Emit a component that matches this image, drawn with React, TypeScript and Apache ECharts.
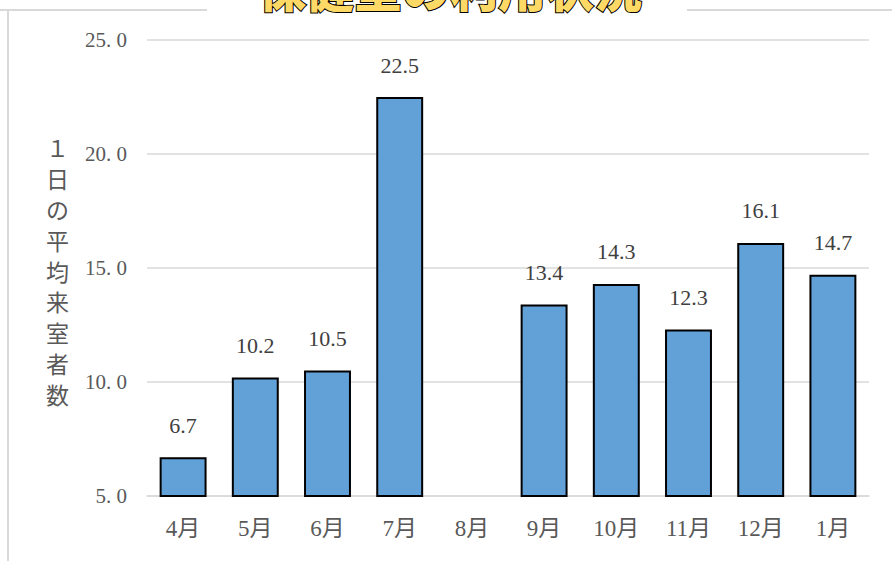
import React, { useEffect, useRef } from "react";
import * as echarts from "echarts";

const months = ["4月", "5月", "6月", "7月", "8月", "9月", "10月", "11月", "12月", "1月"];
const visitors = [6.7, 10.2, 10.5, 22.5, 0, 13.4, 14.3, 12.3, 16.1, 14.7];
const titleText = "保健室の利用状況";
const yAxisTitle = "１日の平均来室者数";
const yMin = 5;
const yMax = 25;
const yInterval = 5;

export default function App() {
  const ref = useRef<HTMLDivElement>(null);
  useEffect(() => {
    if (!ref.current) return;
    const chart = echarts.init(ref.current, null, { renderer: "svg" });
    const serif = "'Liberation Serif', 'Noto Sans CJK JP', serif";
    chart.setOption({
      animation: false,
      backgroundColor: "#ffffff",
      grid: { left: 147, right: 23, top: 40, bottom: 65, containLabel: false },
      xAxis: {
        type: "category",
        data: months,
        axisLine: { lineStyle: { color: "#D9D9D9", width: 1.5 } },
        axisTick: { show: false },
        axisLabel: { color: "#595959", fontSize: 23, fontFamily: serif, margin: 21 },
      },
      yAxis: {
        type: "value",
        min: yMin,
        max: yMax,
        interval: yInterval,
        axisLine: { show: false },
        axisTick: { show: false },
        splitLine: { lineStyle: { color: "#D9D9D9", width: 1.5 } },
        axisLabel: {
          color: "#595959",
          fontSize: 21,
          fontFamily: serif,
          margin: 20,
          formatter: (v: number) => v.toFixed(1).replace(".", ". "),
        },
      },
      series: [
        {
          type: "bar",
          data: visitors,
          barCategoryGap: "35%",
          clip: true,
          itemStyle: { color: "#62A0D8", borderColor: "#000000", borderWidth: 2 },
          label: {
            show: true,
            position: "top",
            distance: 21,
            color: "#404040",
            fontSize: 22,
            fontFamily: serif,
            formatter: (p: any) => (p.value >= yMin ? p.value.toFixed(1) : ""),
          },
        },
      ],
      graphic: [
        { type: "line", shape: { x1: 8, y1: 10, x2: 8, y2: 561 }, style: { stroke: "#D9D9D9", lineWidth: 2 } },
        { type: "line", shape: { x1: 0, y1: 10, x2: 207, y2: 10 }, style: { stroke: "#D9D9D9", lineWidth: 2 } },
        { type: "line", shape: { x1: 687, y1: 10, x2: 892, y2: 10 }, style: { stroke: "#D9D9D9", lineWidth: 2 } },
        {
          type: "text",
          left: 46,
          top: 132,
          style: {
            text: yAxisTitle.split("").join("\n"),
            fill: "#595959",
            fontSize: 23,
            lineHeight: 30.8,
            fontFamily: "'Noto Sans CJK JP', sans-serif",
            align: "center",
          },
        },
        {
          type: "text",
          x: 450,
          y: 10,
          style: {
            text: titleText,
            fill: "#FFD966",
            stroke: "#000000",
            lineWidth: 2,
            fontSize: 48,
            fontWeight: 900,
            fontFamily: "'Noto Sans CJK JP', sans-serif",
            align: "center",
            verticalAlign: "bottom",
          },
        },
      ],
    });
    return () => chart.dispose();
  }, []);
  return (
    <div
      ref={ref}
      style={{ position: "fixed", left: 0, top: 0, width: 892, height: 561 }}
    />
  );
}
